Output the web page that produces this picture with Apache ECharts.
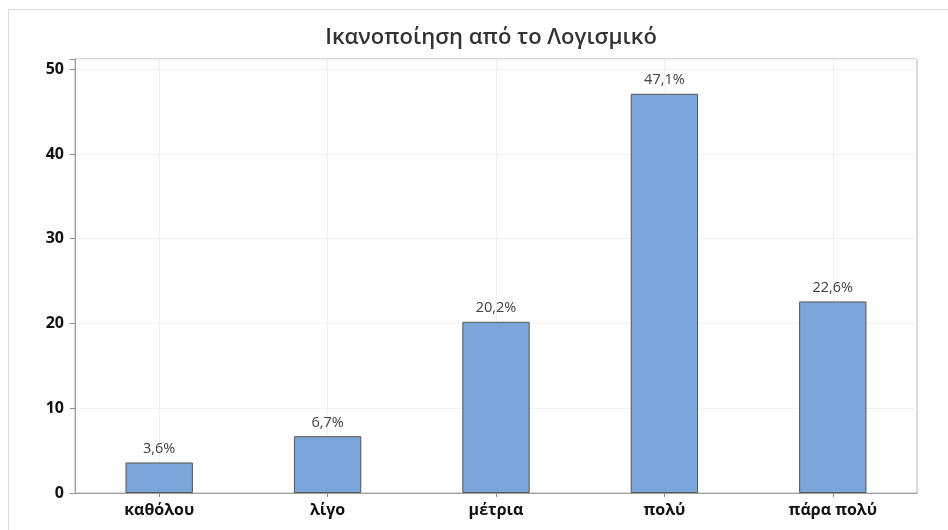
<!DOCTYPE html>
<html><head><meta charset="utf-8">
<script src="https://cdn.jsdelivr.net/npm/echarts@6/dist/echarts.min.js"></script>
<style>html,body{margin:0;padding:0;background:#fff}#c{width:948px;height:530px;position:relative}
#frame{position:absolute;left:8px;top:9px;width:960px;height:540px;border:1px solid #dcdcdc;box-sizing:border-box;pointer-events:none}</style>
</head><body><div id="c"></div><div id="frame"></div>
<script>
const title = 'Ικανοποίηση από το Λογισμικό';
const categories = ['καθόλου', 'λίγο', 'μέτρια', 'πολύ', 'πάρα πολύ'];
const values = [3.6, 6.7, 20.2, 47.1, 22.6];
const yTicks = [0, 10, 20, 30, 40, 50];

const chart = echarts.init(document.getElementById('c'));
const font = '"Open Sans", "Noto Sans", sans-serif';
chart.setOption({
  animation: false,
  textStyle: {fontFamily: font},
  title: {text: title, left: 486, top: 22, textAlign: 'center',
    textStyle: {fontFamily: font, fontSize: 22, fontWeight: 600, color: '#333'}},
  grid: {left: 75, right: 31, top: 59, bottom: 37, show: true, borderColor: '#b4b4b4', borderWidth: 1, backgroundColor: 'transparent'},
  xAxis: {type: 'category', data: categories,
    axisLine: {lineStyle: {color: '#a0a0a0'}},
    axisTick: {show: true, alignWithLabel: true, length: 4, lineStyle: {color: '#909090'}},
    axisLabel: {color: '#111', fontWeight: 'bold', fontSize: 16, margin: 9, fontFamily: font},
    splitLine: {show: false}
  },
  yAxis: {type: 'value', min: 0, max: 51.2, interval: 10,
    axisLine: {show: true, lineStyle: {color: '#a0a0a0'}},
    axisTick: {show: true, length: 5, lineStyle: {color: '#909090'}},
    axisLabel: {color: '#111', fontWeight: 'bold', fontSize: 16, margin: 11, fontFamily: font,
      formatter: v => yTicks.includes(v) ? String(v) : ''},
    splitLine: {show: true, lineStyle: {color: '#f2f2f2'}}
  },
  series: [{type: 'bar', data: values, barWidth: '40%', z: 3,
    itemStyle: {color: '#7ba6d9', borderColor: '#555', borderWidth: 1},
    label: {show: true, position: 'top', distance: 6, color: '#404040', fontSize: 14.5, fontFamily: font,
      formatter: p => String(p.value).replace('.', ',') + '%'},
    markLine: {silent: true, symbol: 'none', z: 1, label: {show: false},
      lineStyle: {color: '#f0f0f0', type: 'solid', width: 1},
      data: categories.map(c => ({xAxis: c}))}
  }]
});
</script></body></html>
